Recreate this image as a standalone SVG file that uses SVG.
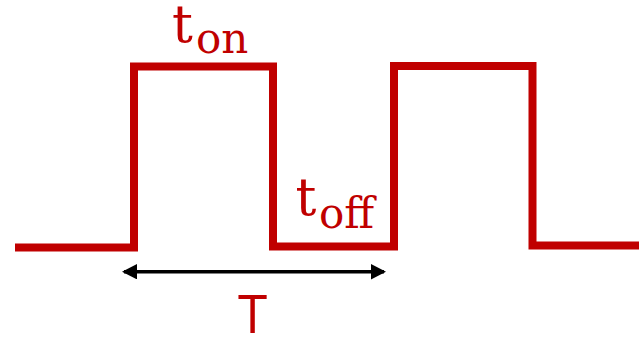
<svg xmlns="http://www.w3.org/2000/svg" width="639" height="337" viewBox="0 0 639 337">
  <defs>
    <style>
      .wave { fill: none; stroke: #C00000; stroke-width: 8; stroke-linejoin: miter; stroke-linecap: butt; }
      .dim { stroke: #000000; stroke-width: 3.5; fill: none; }
      .lbl { fill: #C00000; font-family: "DejaVu Serif", "Liberation Serif", serif; }
      .big { font-size: 52px; }
      .sub { font-size: 42px; }
      .tT { fill: #C00000; font-family: "Open Sans", "Liberation Sans", sans-serif; font-size: 53px; }
    </style>
    <marker id="ah" markerUnits="userSpaceOnUse" markerWidth="16" markerHeight="16" refX="13" refY="7.7" orient="auto-start-reverse">
      <path d="M0,0 L15,7.7 L0,15.4 Z" fill="#000000"/>
    </marker>
  </defs>
  <g id="waveform">
    <polyline class="wave" points="15,247.5 134,247.5 134,66.5 273,66.5 273,246.5 394,246.5 394,66 532.5,66 532.5,245.5 639,245.5"/>
  </g>
  <g id="connectors">
    <line class="dim" x1="124" y1="271.7" x2="384" y2="271.7" marker-start="url(#ah)" marker-end="url(#ah)"/>
  </g>
  <g id="label-ton">
    <text class="lbl big" x="172" y="41.7">t</text>
    <text class="lbl sub" x="196" y="53.3">on</text>
  </g>
  <g id="label-toff">
    <text class="lbl big" x="295.5" y="215">t</text>
    <text class="lbl sub" x="319" y="228.3">off</text>
  </g>
  <g id="label-T">
    <text class="tT" x="252.7" y="333" text-anchor="middle">T</text>
  </g>
</svg>
